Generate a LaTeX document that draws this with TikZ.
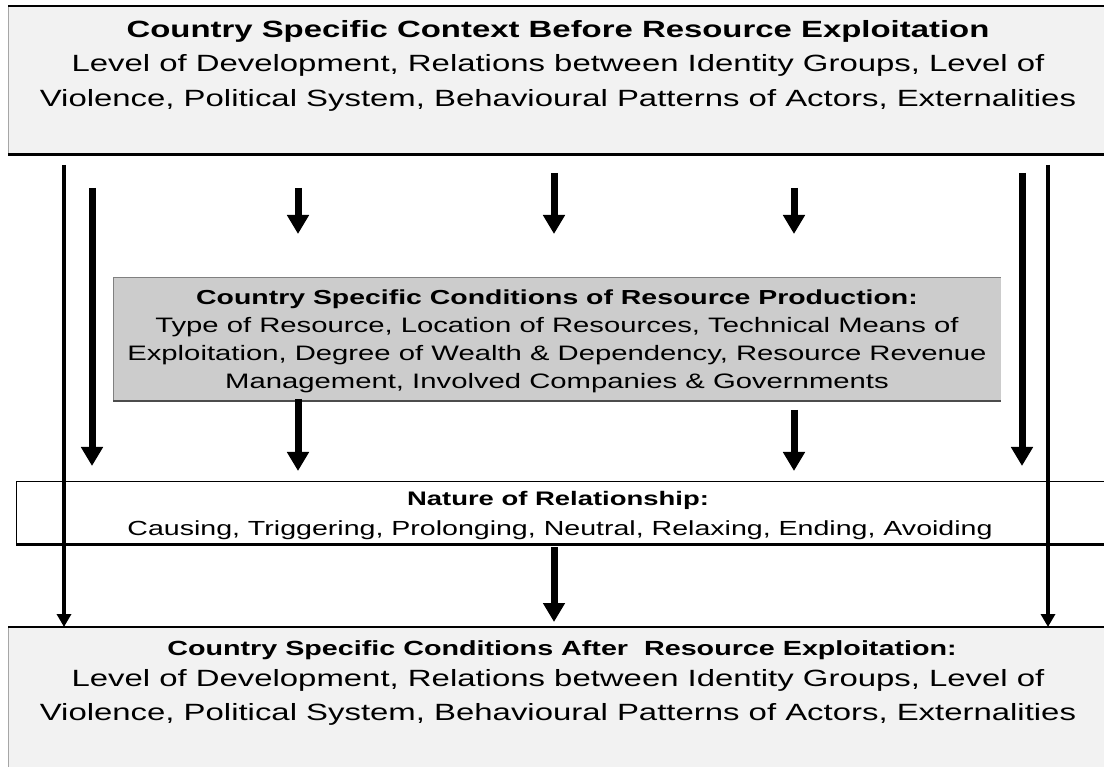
\documentclass[tikz,border=0pt]{standalone}
\usepackage{fontspec}
\setmainfont[FakeStretch=1.4]{Liberation Sans}
\usetikzlibrary{arrows.meta}
\definecolor{boxlight}{HTML}{F2F2F2}
\definecolor{boxgrey}{HTML}{CCCCCC}
\newcommand\fbig{\fontsize{23.5pt}{28pt}\selectfont}
\newcommand\fgreytitle{\fontsize{20.3pt}{24pt}\selectfont\bfseries}
\newcommand\fgrey{\fontsize{20.9pt}{25pt}\selectfont}
\newcommand\fnat{\fontsize{20.4pt}{24pt}\selectfont}
\newcommand\fnattitle{\fontsize{19.6pt}{24pt}\selectfont\bfseries}
\newcommand\fbottitle{\fontsize{20.5pt}{24pt}\selectfont\bfseries}
\begin{document}
\begin{tikzpicture}[x=1pt,y=-1pt,
  box/.style={draw=none, inner sep=0pt, outer sep=0pt, anchor=north west},
  txt/.style={anchor=base, inner sep=0pt},
  bigarrow/.style={line width=7pt, -{Triangle[width=21pt,length=19pt]}},
  longarrow/.style={line width=4.5pt, -{Triangle[width=14pt,length=13pt]}}]
\useasboundingbox (0,0) rectangle (1104,767);
\clip (0,0) rectangle (1104,767);
\fill[white] (0,0) rectangle (1104,767);

% top box
\node[box, fill=boxlight, minimum width=1102pt, minimum height=149pt] (top) at (8,6) {};
\draw[gray!70, line width=1pt] (top.north west) -- (top.south west);
\draw[line width=2pt] (top.north west) -- (top.north east);
\draw[line width=3pt] (top.south west) -- (top.south east);

% grey box
\node[box, fill=boxgrey, minimum width=888pt, minimum height=124pt] (grey) at (113,277) {};
\draw[gray, line width=0.8pt] (grey.south west) -- (grey.north west) -- (grey.north east);
\draw[black!70, line width=1.5pt] (grey.south west) -- (grey.south east);

% nature box
\node[box, fill=white, minimum width=1094pt, minimum height=63pt] (nature) at (16,481) {};
\draw[line width=1pt] (nature.south west) -- (nature.north west) -- (nature.north east);
\draw[line width=3pt] (nature.south west) -- (nature.south east);

% bottom box
\node[box, fill=boxlight, minimum width=1102pt, minimum height=150pt] (bottom) at (8,627) {};
\draw[gray!70, line width=1pt] (bottom.north west) -- (bottom.south west);
\draw[line width=1.5pt] (bottom.north west) -- (bottom.north east);

% texts
\node[txt, font=\fbig\bfseries] (t1) at (558,38) {Country Specific Context Before Resource Exploitation};
\node[txt, font=\fbig] (t2) at (558,72) {Level of Development, Relations between Identity Groups, Level of};
\node[txt, font=\fbig] (t3) at (558,107) {Violence, Political System, Behavioural Patterns of Actors, Externalities};

\node[txt, font=\fgreytitle] (g1) at (557,305) {Country Specific Conditions of Resource Production:};
\node[txt, font=\fgrey] (g2) at (557,333) {Type of Resource, Location of Resources, Technical Means of};
\node[txt, font=\fgrey] (g3) at (557,361) {Exploitation, Degree of Wealth \& Dependency, Resource Revenue};
\node[txt, font=\fgrey] (g4) at (557,389) {Management, Involved Companies \& Governments};

\node[txt, font=\fnattitle] (n1) at (558,505) {Nature of Relationship:};
\node[txt, font=\fnat] (n2) at (560,535) {Causing, Triggering, Prolonging, Neutral, Relaxing, Ending, Avoiding};

\node[txt, font=\fbottitle] (b1) at (562,655) {Country Specific Conditions After\ \ Resource Exploitation:};
\node[txt, font=\fbig] (b2) at (558,686) {Level of Development, Relations between Identity Groups, Level of};
\node[txt, font=\fbig] (b3) at (558,720) {Violence, Political System, Behavioural Patterns of Actors, Externalities};

% arrow coordinates
\coordinate (lls) at (64,165);
\coordinate (rls) at (1048,165);
\coordinate (lis) at (92,188);
\coordinate (lie) at (92,466);
\coordinate (ris) at (1022,173);
\coordinate (rie) at (1022,466);
\coordinate (a1s) at (298,188);
\coordinate (a1e) at (298,234);
\coordinate (a2s) at (554,173);
\coordinate (a2e) at (554,234);
\coordinate (a3s) at (794,188);
\coordinate (a3e) at (794,234);
\coordinate (b1s) at (298,399);
\coordinate (b1e) at (298,471);
\coordinate (b2s) at (794,410);
\coordinate (b2e) at (794,471);
\coordinate (ms) at (554,547);
\coordinate (me) at (554,622);

% arrows
\draw[longarrow] (lls) -- (lls |- bottom.north);
\draw[longarrow] (rls) -- (rls |- bottom.north);
\draw[bigarrow] (lis) -- (lie);
\draw[bigarrow] (ris) -- (rie);
\draw[bigarrow] (a1s) -- (a1e);
\draw[bigarrow] (a2s) -- (a2e);
\draw[bigarrow] (a3s) -- (a3e);
\draw[bigarrow] (b1s) -- (b1e);
\draw[bigarrow] (b2s) -- (b2e);
\draw[bigarrow] (ms) -- (me);
\end{tikzpicture}
\end{document}
